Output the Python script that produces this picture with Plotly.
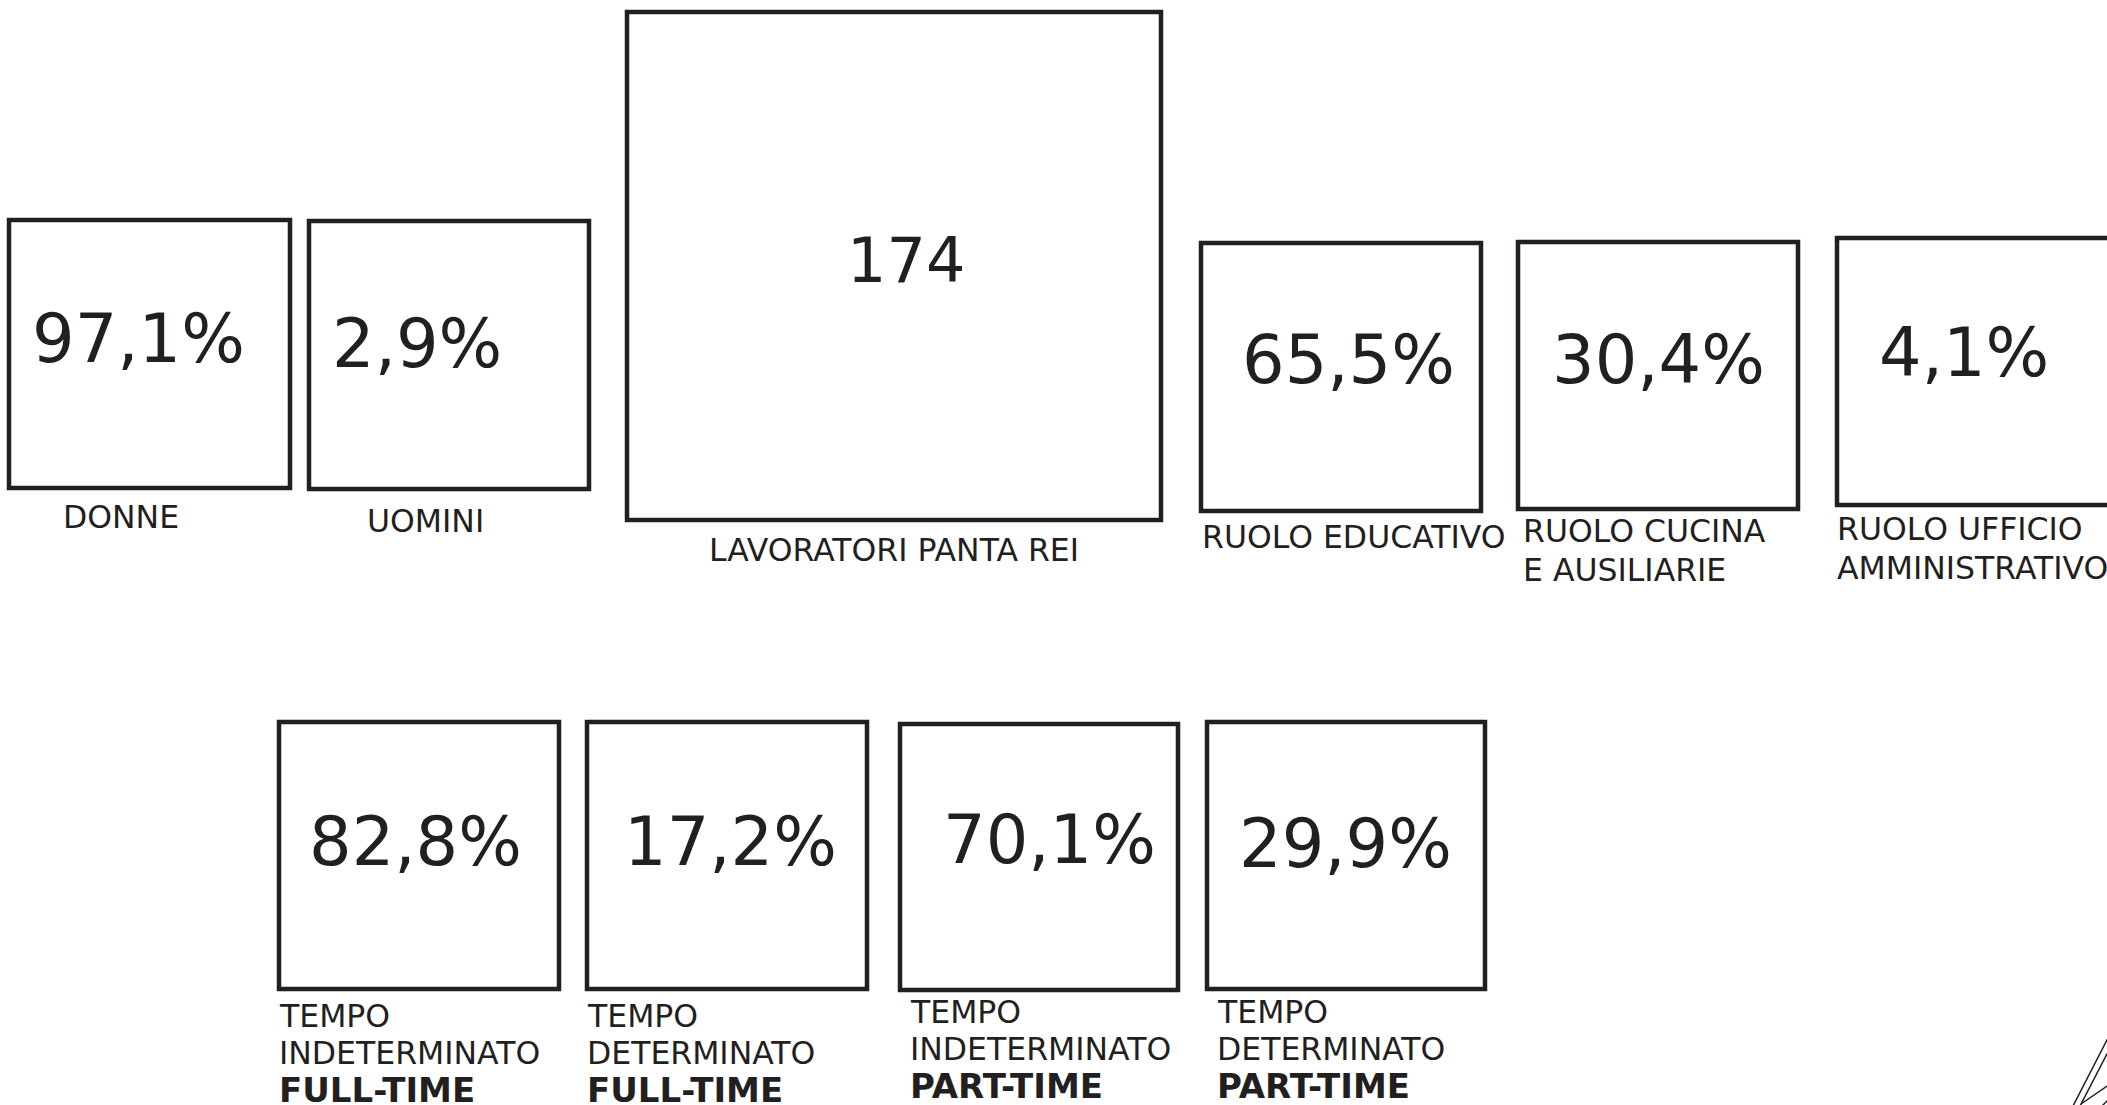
import plotly.graph_objects as go

# ---- data ----
total_label = ["LAVORATORI PANTA REI"]
total_value = "174"

gender_labels = [["DONNE"], ["UOMINI"]]
gender_values = ["97,1%", "2,9%"]

role_labels = [["RUOLO EDUCATIVO"], ["RUOLO CUCINA", "E AUSILIARIE"], ["RUOLO UFFICIO", "AMMINISTRATIVO"]]
role_values = ["65,5%", "30,4%", "4,1%"]

contract_labels = [
    ["TEMPO", "INDETERMINATO", "<b>FULL-TIME</b>"],
    ["TEMPO", "DETERMINATO", "<b>FULL-TIME</b>"],
    ["TEMPO", "INDETERMINATO", "<b>PART-TIME</b>"],
    ["TEMPO", "DETERMINATO", "<b>PART-TIME</b>"],
]
contract_values = ["82,8%", "17,2%", "70,1%", "29,9%"]

# ---- layout (pixel geometry of the infographic) ----
W, H = 2107, 1105
INK = "#231f20"
FONT = "DejaVu Sans, Verdana, sans-serif"

# box: (x0, y0, x1, y1); value text centre (x, y); label: (x, first-line centre y, line step, xanchor)
total_box = (627, 12, 1161, 520)
total_text = (906, 260)
total_lab = (894, 550, 0, "center")

gender_boxes = [(9, 220, 290, 488), (309, 221, 589, 489)]
gender_text = [(138, 339), (417, 344)]
gender_lab = [(121, 517, 0, "center"), (425, 521, 0, "center")]

role_boxes = [(1201, 243, 1481, 511), (1518, 242, 1798, 509), (1837, 238, 2125, 505)]
role_text = [(1348, 360), (1658, 360), (1964, 353)]
role_lab = [(1200, 537, 0, "left"), (1521, 531, 39, "left"), (1835, 529, 39, "left")]

contract_boxes = [(279, 722, 559, 989), (587, 722, 867, 989), (900, 724, 1178, 990), (1207, 722, 1485, 989)]
contract_text = [(415, 842), (730, 842), (1049, 840), (1345, 844)]
contract_lab = [(277, 1016, 37, "left"), (585, 1016, 37, "left"), (908, 1012, 37, "left"), (1215, 1012, 37, "left")]

fig = go.Figure()
shapes = []
annotations = []


def add_box(box, val, vpos, vsize, lines, lpos):
    x0, y0, x1, y1 = box
    shapes.append(dict(type="rect", xref="x", yref="y", x0=x0, y0=y0, x1=x1, y1=y1,
                       line=dict(color=INK, width=4.5), fillcolor="rgba(0,0,0,0)"))
    annotations.append(dict(x=vpos[0], y=vpos[1], xref="x", yref="y", text=val,
                            showarrow=False, xanchor="center", yanchor="middle",
                            font=dict(family=FONT, size=vsize, color=INK)))
    lx, ly, step, anc = lpos
    for i, line in enumerate(lines):
        size = 34 if line.startswith("<b>") else 31.5
        annotations.append(dict(x=lx, y=ly + i * step, xref="x", yref="y", text=line,
                                showarrow=False, xanchor=anc, yanchor="middle", align=anc,
                                font=dict(family=FONT, size=size, color=INK)))


add_box(total_box, total_value, total_text, 62, total_label, total_lab)
for b, v, t, l, p in zip(gender_boxes, gender_values, gender_text, gender_labels, gender_lab):
    add_box(b, v, t, 67, l, p)
for b, v, t, l, p in zip(role_boxes, role_values, role_text, role_labels, role_lab):
    add_box(b, v, t, 67, l, p)
for b, v, t, l, p in zip(contract_boxes, contract_values, contract_text, contract_labels, contract_lab):
    add_box(b, v, t, 67, l, p)

# decorative strokes at bottom-right corner
for (ax, ay, bx, by) in [(2110, 1034, 2072, 1108), (2110, 1048, 2079, 1108), (2110, 1084, 2081, 1104), (2110, 1098, 2100, 1108)]:
    shapes.append(dict(type="line", xref="x", yref="y", x0=ax, y0=ay, x1=bx, y1=by,
                       line=dict(color=INK, width=1.5)))

fig.update_layout(
    width=W, height=H,
    margin=dict(l=0, r=0, t=0, b=0),
    paper_bgcolor="white", plot_bgcolor="white",
    xaxis=dict(range=[0, W], visible=False, fixedrange=True),
    yaxis=dict(range=[H, 0], visible=False, fixedrange=True),
    shapes=shapes, annotations=annotations, showlegend=False,
)

fig.write_html("out.html", config={"displayModeBar": False},
               post_script="document.body.style.margin='0';document.body.style.overflow='hidden';")
